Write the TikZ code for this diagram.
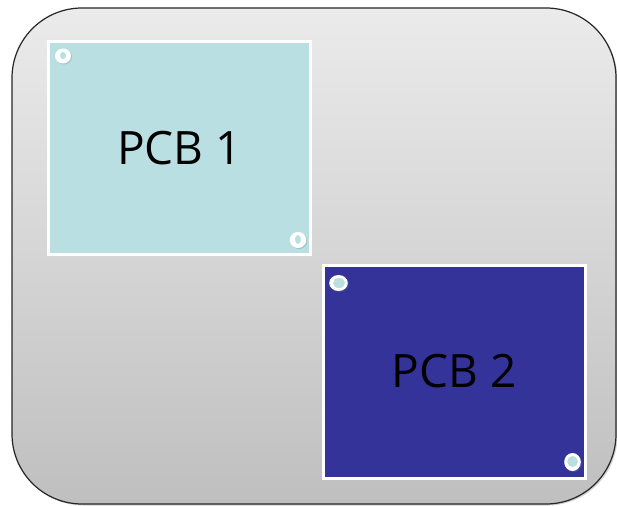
\documentclass[tikz,border=0pt]{standalone}
\usepackage{fontspec}
\setmainfont{Open Sans}
\usetikzlibrary{shadows}
\definecolor{bgtop}{HTML}{EBEBEB}
\definecolor{bgbot}{HTML}{BFBFBF}
\definecolor{pcbcyan}{HTML}{B9DFE3}
\definecolor{pcbblue}{HTML}{333399}
\tikzset{
  encl/.style={draw=black!85, line width=1.2pt, rounded corners=70pt, top color=bgtop, bottom color=bgbot,
    drop shadow={shadow xshift=1.5pt, shadow yshift=-1.5pt, opacity=0.35}},
  board/.style={draw=white, line width=3pt, minimum width=262pt, minimum height=213pt, inner sep=0pt,
    font=\fontsize{46}{50}\selectfont,
    drop shadow={shadow xshift=1.5pt, shadow yshift=-1.5pt, opacity=0.3}},
  holeout/.style={fill=white, drop shadow={shadow xshift=1pt, shadow yshift=-1pt, opacity=0.3}},
  holein/.style={fill=pcbcyan}
}
\begin{document}
\begin{tikzpicture}[x=1pt,y=-1pt]
\useasboundingbox (0,0) rectangle (617,505);
\path[encl] (12,8) rectangle (616,504);
\node[board, fill=pcbcyan] (pcb1) at (179.5,148) {PCB 1};
\node[board, fill=pcbblue] (pcb2) at (454,371.5) {PCB 2};
% holes PCB1
\path[holeout] (63,56) ellipse [x radius=8pt, y radius=7.5pt];
\path[holein] (63,55.5) ellipse [x radius=3pt, y radius=3.6pt];
\path[holeout] (298,240) ellipse [x radius=8.3pt, y radius=8pt];
\path[holein] (298,239.5) ellipse [x radius=3pt, y radius=4.5pt];
% holes PCB2
\path[holeout] (338.5,283) ellipse [x radius=9.3pt, y radius=8pt];
\path[holein] (339,283) ellipse [x radius=6pt, y radius=5pt];
\path[holeout] (572.5,462) ellipse [x radius=8.3pt, y radius=9pt];
\path[holein] (572.5,461.5) ellipse [x radius=5.3pt, y radius=5.5pt];
\end{tikzpicture}
\end{document}
